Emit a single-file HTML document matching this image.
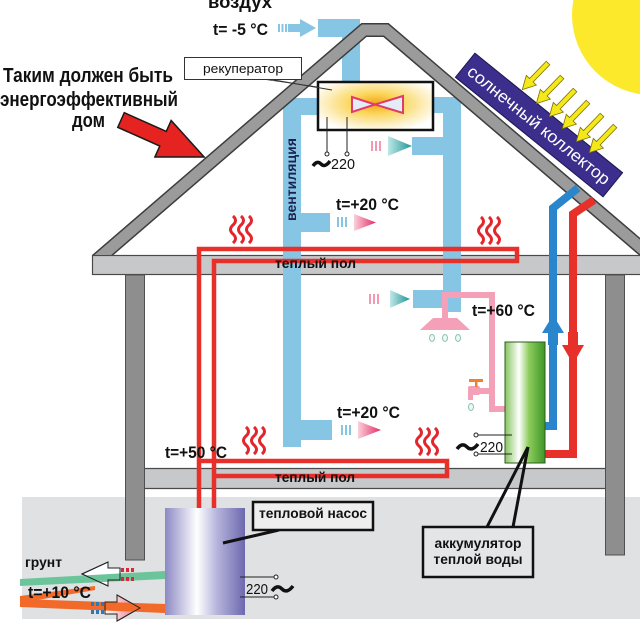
<!DOCTYPE html>
<html><head><meta charset="utf-8"><style>
html,body{margin:0;padding:0;background:#fff;}
svg{display:block;}
text{font-family:"Liberation Sans","Noto Sans CJK SC",sans-serif;}
</style></head><body>
<svg width="640" height="624" viewBox="0 0 640 624" xmlns="http://www.w3.org/2000/svg">
<defs>
 <radialGradient id="recG" cx="0.5" cy="0.45" r="0.6">
  <stop offset="0" stop-color="#f0a616"/>
  <stop offset="0.35" stop-color="#fbd55a"/>
  <stop offset="0.75" stop-color="#fdf0c4"/>
  <stop offset="1" stop-color="#ffffff"/>
 </radialGradient>
 <linearGradient id="hpG" x1="0" x2="1" y1="0" y2="0">
  <stop offset="0" stop-color="#8c88c4"/>
  <stop offset="0.4" stop-color="#ffffff"/>
  <stop offset="0.65" stop-color="#b6b4dc"/>
  <stop offset="1" stop-color="#6d68ae"/>
 </linearGradient>
 <linearGradient id="accG" x1="0" x2="1" y1="0" y2="0">
  <stop offset="0" stop-color="#86c460"/>
  <stop offset="0.35" stop-color="#ffffff"/>
  <stop offset="0.6" stop-color="#8ccc5c"/>
  <stop offset="1" stop-color="#3e9628"/>
 </linearGradient>
 <linearGradient id="pinkTri" x1="0" x2="1" y1="0" y2="0">
  <stop offset="0" stop-color="#fbd0dc"/>
  <stop offset="1" stop-color="#e42a62"/>
 </linearGradient>
 <linearGradient id="tealTri" x1="0" x2="1" y1="0" y2="0">
  <stop offset="0" stop-color="#c0e8e8"/>
  <stop offset="1" stop-color="#1f9494"/>
 </linearGradient>
 <linearGradient id="pinkArr" x1="0" x2="1" y1="0" y2="0">
  <stop offset="0" stop-color="#ffffff"/>
  <stop offset="1" stop-color="#ee6a7a"/>
 </linearGradient>
 <clipPath id="roofClip"><rect x="92" y="0" width="548" height="255"/></clipPath>
</defs>

<!-- sun -->
<circle cx="652" cy="15" r="80" fill="#fde92b"/>

<!-- ground -->
<rect x="22" y="497" width="618" height="122" fill="#dfe1e2"/>

<!-- floor bands -->
<rect x="92.5" y="255.5" width="550" height="19" fill="#c6c8ca" stroke="#4a4a4a" stroke-width="1.2"/>
<rect x="145" y="468" width="460" height="21" fill="#c6c8ca"/>
<line x1="145" y1="468.5" x2="605" y2="468.5" stroke="#4a4a4a" stroke-width="1.2"/>
<line x1="145" y1="488.5" x2="605" y2="488.5" stroke="#4a4a4a" stroke-width="1.2"/>

<!-- walls -->
<rect x="125.5" y="275" width="19" height="285" fill="#8e8e8e" stroke="#505050" stroke-width="1"/>
<rect x="605.5" y="275" width="19" height="280" fill="#8e8e8e" stroke="#505050" stroke-width="1"/>

<!-- ventilation ducts -->
<g fill="#86c6e4">
 <rect x="318" y="19" width="42" height="18"/>
 <rect x="342" y="19" width="18" height="65"/>
 <rect x="283" y="98" width="37" height="17"/>
 <rect x="283" y="98" width="18" height="349"/>
 <rect x="283" y="213" width="47" height="19"/>
 <rect x="283" y="420" width="49" height="20"/>
 <rect x="430" y="97" width="31" height="16"/>
 <rect x="443" y="97" width="18" height="215"/>
 <rect x="412" y="137" width="49" height="18"/>
 <rect x="413" y="290" width="48" height="18"/>
</g>

<!-- roof -->
<g clip-path="url(#roofClip)">
<polyline points="90,266 364,30 386,30 660,264" fill="none" stroke="#3d3d3d" stroke-width="14" stroke-linejoin="miter"/>
<polyline points="90,266 364,30 386,30 660,264" fill="none" stroke="#9b9b9b" stroke-width="11" stroke-linejoin="miter"/>
</g>

<!-- solar collector -->
<g transform="translate(539,125) rotate(39)">
 <rect x="-95" y="-15.5" width="190" height="31" fill="#3b2e8c" stroke="#1e1650" stroke-width="1"/>
 <text x="0" y="6" text-anchor="middle" fill="#ffffff" font-size="17" textLength="178" lengthAdjust="spacingAndGlyphs">солнечный коллектор</text>
</g>

<!-- yellow arrows -->
<g fill="#f4e81a" stroke="#7a7000" stroke-width="0.8">
 <polygon transform="translate(548,63) rotate(134)" points="0,-2.5 24,-2.5 24,-7 37,0 24,7 24,2.5 0,2.5"/>
 <polygon transform="translate(562,77) rotate(134)" points="0,-2.5 24,-2.5 24,-7 37,0 24,7 24,2.5 0,2.5"/>
 <polygon transform="translate(575,90) rotate(134)" points="0,-2.5 24,-2.5 24,-7 37,0 24,7 24,2.5 0,2.5"/>
 <polygon transform="translate(588,102) rotate(134)" points="0,-2.5 24,-2.5 24,-7 37,0 24,7 24,2.5 0,2.5"/>
 <polygon transform="translate(602,115) rotate(134)" points="0,-2.5 24,-2.5 24,-7 37,0 24,7 24,2.5 0,2.5"/>
 <polygon transform="translate(615,126) rotate(134)" points="0,-2.5 24,-2.5 24,-7 37,0 24,7 24,2.5 0,2.5"/>
</g>

<!-- solar pipes -->
<polyline points="578,188 553,208 553,426 545,426" fill="none" stroke="#2a86cc" stroke-width="8"/>
<polyline points="594,200 573,214 573,454 545,454" fill="none" stroke="#e8302a" stroke-width="8"/>
<rect x="548" y="330" width="10" height="15" fill="#2a86cc"/>
<polygon points="553,315 564,333 542,333" fill="#2a86cc"/>
<rect x="568" y="332" width="10" height="15" fill="#e8302a"/>
<polygon points="562,345 584,345 573,364" fill="#e8302a"/>

<!-- red big arrow -->
<polygon transform="translate(121,120) rotate(24)" points="0,-8 46,-8 46,-20 91,0 46,20 46,8 0,8" fill="#e52320" stroke="#1a1a1a" stroke-width="1.5"/>

<!-- intake arrow -->
<g fill="#86c6e4">
 <rect x="278" y="24" width="2" height="8"/>
 <rect x="281.5" y="24" width="2" height="8"/>
 <rect x="285" y="24" width="2" height="8"/>
 <polygon points="288,24 300,24 300,19 316,28 300,37 300,32 288,32"/>
</g>
<!-- left branch arrows -->
<g fill="#86c6e4">
 <rect x="337" y="217" width="2" height="10"/><rect x="341" y="217" width="2" height="10"/><rect x="345" y="217" width="2" height="10"/>
 <rect x="341" y="425" width="2" height="10"/><rect x="345" y="425" width="2" height="10"/><rect x="349" y="425" width="2" height="10"/>
</g>
<polygon points="354,214 376,222.5 354,231" fill="url(#pinkTri)"/>
<polygon points="358,421 381,430 358,439" fill="url(#pinkTri)"/>
<!-- right branch arrows -->
<g fill="#f29ab4">
 <rect x="371" y="141" width="2" height="10"/><rect x="375" y="141" width="2" height="10"/><rect x="379" y="141" width="2" height="10"/>
 <rect x="369" y="294" width="2" height="10"/><rect x="373" y="294" width="2" height="10"/><rect x="377" y="294" width="2" height="10"/>
</g>
<polygon points="388,136 412,146 388,156" fill="url(#tealTri)"/>
<polygon points="390,290 410,299 390,308" fill="url(#tealTri)"/>

<!-- recuperator -->
<rect x="318" y="82" width="115" height="48" fill="url(#recG)" stroke="#111" stroke-width="2.5"/>
<polygon points="352,97 375,104.5 352,112" fill="#e4ecf8" stroke="#e23a6a" stroke-width="2"/>
<polygon points="403,96 375,104.5 403,113" fill="#e4ecf8" stroke="#e23a6a" stroke-width="2"/>
<line x1="327" y1="117" x2="327" y2="152" stroke="#222" stroke-width="1"/>
<line x1="347" y1="117" x2="347" y2="152" stroke="#222" stroke-width="1"/>
<circle cx="327" cy="154" r="2" fill="#fff" stroke="#222" stroke-width="1"/>
<circle cx="347" cy="154" r="2" fill="#fff" stroke="#222" stroke-width="1"/>
<path d="M313,166 q4,-6 8,-2 q4,4 9,-3" fill="none" stroke="#111" stroke-width="3.5"/>
<text x="331" y="169" font-size="15" textLength="24" lengthAdjust="spacingAndGlyphs" fill="#111">220</text>

<!-- recuperator label -->
<line x1="274" y1="80" x2="332" y2="90" stroke="#333" stroke-width="1"/>
<line x1="262" y1="79" x2="318" y2="87" stroke="#333" stroke-width="0.8"/>
<rect x="184.5" y="57.5" width="117" height="22" fill="#fff" stroke="#333" stroke-width="1"/>
<text x="243" y="73" text-anchor="middle" font-size="13" textLength="80" lengthAdjust="spacingAndGlyphs" fill="#111">рекуператор</text>

<!-- shower pipe -->
<polyline points="445,318 445,295 492,295 492,409 505,409" fill="none" stroke="#f4a0b8" stroke-width="6"/>
<polygon points="433,318 457,318 470,330 420,330" fill="#f4a0b8"/>
<g fill="#eef8f4" stroke="#8cc4b8" stroke-width="1">
 <ellipse cx="432" cy="338" rx="2.5" ry="3.5"/>
 <ellipse cx="445" cy="338" rx="2.5" ry="3.5"/>
 <ellipse cx="458" cy="338" rx="2.5" ry="3.5"/>
 <ellipse cx="471" cy="407" rx="2.5" ry="3.5"/>
</g>
<!-- faucet -->
<rect x="476" y="388" width="16" height="6" fill="#f4a0b8"/>
<rect x="468" y="386" width="12" height="9" rx="2" fill="#f4a0b8"/>
<rect x="468" y="392" width="5" height="8" fill="#f4a0b8"/>
<rect x="475" y="381" width="2.5" height="6" fill="#f08030"/>
<rect x="469" y="379" width="14" height="3" fill="#f08030"/>

<!-- accumulator -->
<rect x="505" y="342" width="40" height="121" fill="url(#accG)" stroke="#2d5d1d" stroke-width="1"/>
<line x1="478" y1="435" x2="512" y2="435" stroke="#222" stroke-width="1"/>
<line x1="478" y1="454" x2="512" y2="454" stroke="#222" stroke-width="1"/>
<circle cx="476" cy="435" r="2" fill="#fff" stroke="#222" stroke-width="1"/>
<circle cx="476" cy="454" r="2" fill="#fff" stroke="#222" stroke-width="1"/>
<path d="M457,449 q5,-7 10,-2 q5,5 11,-3" fill="none" stroke="#111" stroke-width="3.5"/>
<text x="480" y="452" font-size="15" textLength="23" lengthAdjust="spacingAndGlyphs" fill="#111">220</text>

<!-- warm floor red pipes -->
<path d="M199,508 V249 H517 V261 H214 V508" fill="none" stroke="#e8302a" stroke-width="4.5"/>
<path d="M199,461 H447 V476 H214" fill="none" stroke="#e8302a" stroke-width="4.5"/>

<!-- heat waves -->
<g fill="none" stroke="#e3262b" stroke-width="3">
 <path d="M233,216 q5,4.5 0,9 q-5,4.5 0,9 q5,4.5 0,9"/>
 <path d="M241,216 q5,4.5 0,9 q-5,4.5 0,9 q5,4.5 0,9"/>
 <path d="M249,216 q5,4.5 0,9 q-5,4.5 0,9 q5,4.5 0,9"/>
 <path d="M481,217 q5,4.5 0,9 q-5,4.5 0,9 q5,4.5 0,9"/>
 <path d="M489,217 q5,4.5 0,9 q-5,4.5 0,9 q5,4.5 0,9"/>
 <path d="M497,217 q5,4.5 0,9 q-5,4.5 0,9 q5,4.5 0,9"/>
 <path d="M246,427 q5,4.5 0,9 q-5,4.5 0,9 q5,4.5 0,9"/>
 <path d="M254,427 q5,4.5 0,9 q-5,4.5 0,9 q5,4.5 0,9"/>
 <path d="M262,427 q5,4.5 0,9 q-5,4.5 0,9 q5,4.5 0,9"/>
 <path d="M419,428 q5,4.5 0,9 q-5,4.5 0,9 q5,4.5 0,9"/>
 <path d="M427,428 q5,4.5 0,9 q-5,4.5 0,9 q5,4.5 0,9"/>
 <path d="M435,428 q5,4.5 0,9 q-5,4.5 0,9 q5,4.5 0,9"/>
</g>

<!-- heat pump -->
<rect x="165" y="508" width="80" height="107" fill="url(#hpG)"/>
<line x1="240" y1="577" x2="275" y2="577" stroke="#222" stroke-width="1"/>
<line x1="240" y1="597" x2="275" y2="597" stroke="#222" stroke-width="1"/>
<circle cx="276" cy="577" r="2" fill="#fff" stroke="#222" stroke-width="1"/>
<circle cx="276" cy="597" r="2" fill="#fff" stroke="#222" stroke-width="1"/>
<path d="M272,591 q5,-7 10,-2 q5,5 11,-3" fill="none" stroke="#111" stroke-width="3.5"/>
<text x="246" y="594" font-size="15" textLength="22" lengthAdjust="spacingAndGlyphs" fill="#111">220</text>

<!-- ground pipes & arrows -->
<polygon points="82,574 108,562 108,568 120,568 120,580 108,580 108,586" fill="#ffffff" stroke="#222" stroke-width="1"/>
<polygon points="105,602 117,602 117,595 140,608 117,621 117,614 105,614" fill="url(#pinkArr)" stroke="#222" stroke-width="1"/>
<polygon points="20,579 165,571 165,579 20,586" fill="#6cc49a"/>
<polygon points="20,596 95,586 95,590 20,603" fill="#f26a2a"/>
<polygon points="20,599 165,604 165,613 20,607" fill="#f26a2a"/>
<polygon points="82,574 108,562 108,568 120,568 120,580 108,580 108,586" fill="none" stroke="#222" stroke-width="1"/>
<polygon points="105,602 117,602 117,595 140,608 117,621 117,614 105,614" fill="none" stroke="#222" stroke-width="1"/>
<g fill="#d8283a">
 <rect x="121" y="568" width="3" height="4"/><rect x="126" y="568" width="3" height="4"/><rect x="131" y="568" width="3" height="4"/>
 <rect x="121" y="577" width="3" height="4"/><rect x="126" y="577" width="3" height="4"/><rect x="131" y="577" width="3" height="4"/>
</g>
<g fill="#2a7ab8">
 <rect x="91" y="602" width="3" height="4"/><rect x="96" y="602" width="3" height="4"/><rect x="101" y="602" width="3" height="4"/>
 <rect x="91" y="610" width="3" height="4"/><rect x="96" y="610" width="3" height="4"/><rect x="101" y="610" width="3" height="4"/>
</g>

<!-- label boxes -->
<line x1="279" y1="530" x2="223" y2="543" stroke="#111" stroke-width="3"/>
<rect x="253" y="502" width="120" height="28" fill="#eeeeee" stroke="#111" stroke-width="2.5"/>
<text x="313" y="518" text-anchor="middle" font-size="14" font-weight="bold" textLength="108" lengthAdjust="spacingAndGlyphs" fill="#111">тепловой насос</text>

<line x1="528" y1="447" x2="487" y2="527" stroke="#111" stroke-width="3"/>
<line x1="528" y1="447" x2="513" y2="527" stroke="#111" stroke-width="3"/>
<rect x="423" y="527" width="110" height="50" fill="#e4e5e6" stroke="#111" stroke-width="2.5"/>
<text x="478" y="548" text-anchor="middle" font-size="14" font-weight="bold" textLength="87" lengthAdjust="spacingAndGlyphs" fill="#111">аккумулятор</text>
<text x="478" y="564" text-anchor="middle" font-size="14" font-weight="bold" textLength="89" lengthAdjust="spacingAndGlyphs" fill="#111">теплой воды</text>

<!-- texts -->
<g font-weight="bold" fill="#111">
 <text x="208" y="8" font-size="18" textLength="64" lengthAdjust="spacingAndGlyphs">воздух</text>
 <text x="213" y="35" font-size="17" textLength="55" lengthAdjust="spacingAndGlyphs">t= -5 °C</text>
 <text x="3" y="82" font-size="20" textLength="170" lengthAdjust="spacingAndGlyphs">Таким должен быть</text>
 <text x="0" y="106" font-size="20" textLength="178" lengthAdjust="spacingAndGlyphs">энергоэффективный</text>
 <text x="72" y="127" font-size="20" textLength="33" lengthAdjust="spacingAndGlyphs">дом</text>
 <text x="336" y="210" font-size="17" textLength="63" lengthAdjust="spacingAndGlyphs">t=+20 °C</text>
 <text x="275" y="268" font-size="14" textLength="81" lengthAdjust="spacingAndGlyphs">теплый пол</text>
 <text x="472" y="316" font-size="17" textLength="63" lengthAdjust="spacingAndGlyphs">t=+60 °C</text>
 <text x="337" y="418" font-size="17" textLength="63" lengthAdjust="spacingAndGlyphs">t=+20 °C</text>
 <text x="165" y="458" font-size="17" textLength="62" lengthAdjust="spacingAndGlyphs">t=+50 °C</text>
 <text x="275" y="482" font-size="14" textLength="80" lengthAdjust="spacingAndGlyphs">теплый пол</text>
 <text x="25" y="567" font-size="14" textLength="37" lengthAdjust="spacingAndGlyphs">грунт</text>
 <text x="28" y="598" font-size="17" textLength="63" lengthAdjust="spacingAndGlyphs">t=+10 °C</text>
</g>
<text transform="translate(296,221) rotate(-90)" x="0" y="0" font-size="14" font-weight="bold" fill="#1c2350" textLength="83" lengthAdjust="spacingAndGlyphs">вентиляция</text>
</svg>
</body></html>
